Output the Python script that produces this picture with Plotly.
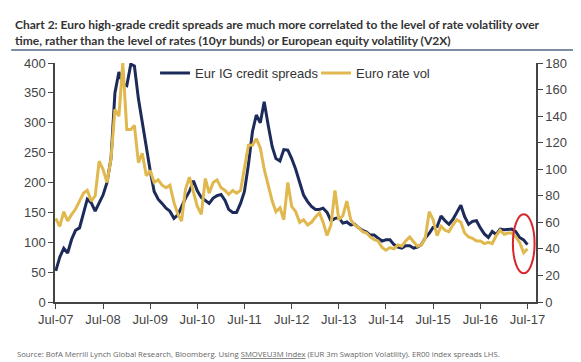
import pandas as pd
import plotly.graph_objects as go

dates = pd.date_range("2007-07-01", periods=121, freq="MS")

credit_spreads = [
    52, 75, 90, 82, 105, 120, 124, 150, 172, 166, 152, 166,
    179, 200, 241, 350, 385, 365, 362, 398, 395, 340, 300, 255,
    220, 185, 172, 165, 157, 152, 140, 146, 160, 174, 185, 203,
    186, 175, 170, 165, 174, 178, 180, 170, 155, 150, 150, 165,
    185, 230, 285, 313, 300, 335, 296, 260, 240, 236, 255, 254,
    240, 222, 200, 179, 168, 160, 155, 155, 157, 150, 136, 140,
    141, 132, 134, 129, 130, 124, 120, 117, 112, 112, 107, 102,
    104, 104, 96, 92, 90, 94, 94, 90, 92, 96, 107, 115,
    125, 126, 144, 136, 130, 138, 150, 162, 143, 130, 135, 136,
    124, 114, 108, 118, 113, 122, 121, 121, 122, 118, 108, 104,
    96,
]

rate_vol = [
    63, 57, 68, 61, 66, 70, 76, 82, 84, 76, 80, 106,
    100, 90, 108, 145, 140, 180, 130, 130, 133, 105, 112, 95,
    99, 90, 92, 88, 86, 88, 75, 66, 61, 85, 94, 82,
    72, 66, 93, 82, 90, 92, 86, 84, 81, 84, 82, 84,
    100, 118, 118, 123, 116, 100, 88, 76, 68, 71, 62, 90,
    72, 68, 60, 62, 58, 60, 64, 67, 60, 50, 58, 84,
    62, 65, 76, 62, 58, 56, 53, 52, 49, 47, 46, 41,
    39, 41, 40, 43, 42, 46, 49, 45, 42, 43, 48, 68,
    62, 50, 57, 54, 53, 58, 62, 60, 52, 49, 48, 46,
    46, 44, 45, 44, 50, 54, 51, 52, 52, 49, 45, 37,
    40,
]

left_ticks = [0, 50, 100, 150, 200, 250, 300, 350, 400]
right_ticks = [0, 20, 40, 60, 80, 100, 120, 140, 160, 180]
x_ticks = pd.date_range("2007-07-01", "2017-07-01", freq="12MS")

NAVY = "#1d2b5b"
GOLD = "#e0b84e"
AX = "#444444"
FONT = "Liberation Sans, Arial, sans-serif"

fig = go.Figure()
fig.add_trace(go.Scatter(x=dates, y=credit_spreads, name="Eur IG credit spreads",
                         mode="lines", line=dict(color=NAVY, width=3), yaxis="y"))
fig.add_trace(go.Scatter(x=dates, y=rate_vol, name="Euro rate vol",
                         mode="lines", line=dict(color=GOLD, width=3), yaxis="y2"))

fig.update_layout(
    width=581, height=362,
    margin=dict(l=47, r=53, t=55, b=68, autoexpand=False),
    paper_bgcolor="white", plot_bgcolor="white",
    font=dict(family=FONT, size=12, color=AX),
    showlegend=True,
    legend=dict(orientation="h", x=0.208, y=0.958, xanchor="left", yanchor="middle",
                bgcolor="rgba(0,0,0,0)", font=dict(size=13, color="#333333"),
                itemwidth=30, entrywidth=116, tracegroupgap=0),
    xaxis=dict(range=["2007-06-25", "2017-09-05"], tickvals=x_ticks, tickformat="%b-%y",
               showgrid=False, showline=True, linecolor=AX, linewidth=1.5,
               ticks="outside", ticklen=5, tickcolor=AX, zeroline=False,
               tickfont=dict(size=13)),
    yaxis=dict(range=[0, 400], tickvals=left_ticks, showgrid=False, showline=True,
               linecolor=AX, linewidth=1.5, ticks="outside", ticklen=5, tickcolor=AX,
               zeroline=False, tickfont=dict(size=13)),
    yaxis2=dict(range=[0, 180], tickvals=right_ticks, overlaying="y", side="right",
                showgrid=False, showline=True, linecolor=AX, linewidth=1.5,
                ticks="outside", ticklen=5, tickcolor=AX, zeroline=False,
                tickfont=dict(size=13)),
)

fig.add_annotation(
    text="Chart 2: Euro high-grade credit spreads are much more correlated to the level of rate volatility over<br>"
         "time, rather than the level of rates (10yr bunds) or European equity volatility (V2X)",
    xref="paper", yref="paper", x=-0.087, y=1.2, xanchor="left", yanchor="top",
    align="left", showarrow=False,
    font=dict(family="Lato, sans-serif", size=12, color="#333333", weight="bold"))

fig.add_shape(type="line", xref="paper", yref="paper", x0=-0.091, x1=1.091, y0=1.054, y1=1.054,
              line=dict(color="#7d8ca3", width=2))

fig.add_annotation(
    text="Source: BofA Merrill Lynch Global Research, Bloomberg. Using "
         "<span style='text-decoration:underline'>SMOVEU3M Index</span> "
         "(EUR 3m Swaption Volatility). ER00 index spreads LHS.",
    xref="paper", yref="paper", x=-0.084, y=-0.218, xanchor="left", yanchor="middle",
    showarrow=False, font=dict(family="Open Sans, sans-serif", size=7.7, color="#666666"))

fig.add_shape(type="circle", xref="x", yref="y", x0="2017-03-10", x1="2017-08-25", y0=48, y1=147,
              line=dict(color="#d9262b", width=2))

fig.write_html("out.html")
